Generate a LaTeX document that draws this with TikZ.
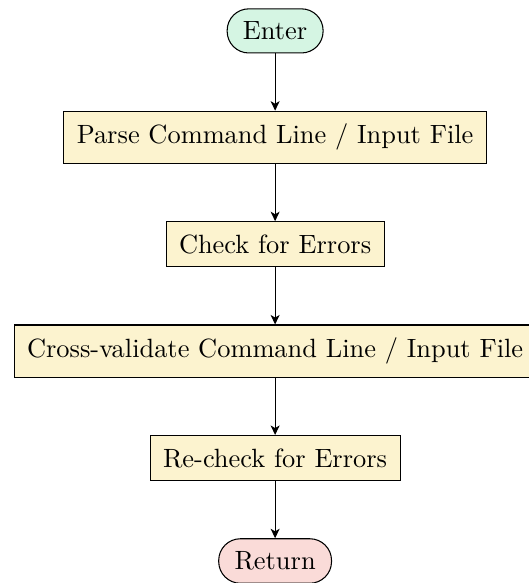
\documentclass[tikz,border=0pt]{standalone}
\usetikzlibrary{positioning,arrows.meta}
\definecolor{termgreen}{HTML}{D5F5E3}
\definecolor{termred}{HTML}{FADBD8}
\definecolor{stepfill}{HTML}{FCF3CF}
\tikzset{
  terminal/.style={draw, rounded corners=8.2pt, inner xsep=6pt, inner ysep=4.9pt},
  stepbox/.style={draw, fill=stepfill, inner sep=4.9pt},
  flow/.style={-{Stealth[length=3.6pt,width=3.4pt,inset=1pt]}},
}
\begin{document}
\begin{tikzpicture}[node distance=21.65pt]
  \useasboundingbox (-104.2pt,11.7pt) rectangle (95.8pt,-209.1pt);
  \node[terminal, fill=termgreen] (enter) at (0,0) {Enter};
  \node[stepbox, below=of enter] (parse) {Parse Command Line / Input File};
  \node[stepbox, below=of parse] (check) {Check for Errors};
  \node[stepbox, below=of check] (cross) {Cross-validate Command Line / Input File};
  \node[stepbox, below=of cross] (recheck) {Re-check for Errors};
  \node[terminal, fill=termred, below=of recheck] (ret) {Return};
  \draw[flow] (enter) -- (parse);
  \draw[flow] (parse) -- (check);
  \draw[flow] (check) -- (cross);
  \draw[flow] (cross) -- (recheck);
  \draw[flow] (recheck) -- (ret);
\end{tikzpicture}
\end{document}
